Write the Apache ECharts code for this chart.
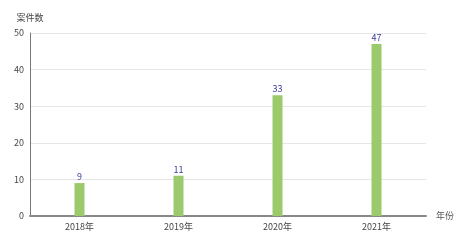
<!DOCTYPE html>
<html><head><meta charset="utf-8">
<script src="https://cdn.jsdelivr.net/npm/echarts@6/dist/echarts.min.js"></script>
<style>html,body{margin:0;padding:0;background:#fff}#c{width:467px;height:241px}</style>
</head><body><div id="c"></div>
<script>
const categories = ['2018年', '2019年', '2020年', '2021年'];
const values = [9, 11, 33, 47];
const chart = echarts.init(document.getElementById('c'), null, {renderer: 'canvas'});
chart.setOption({
  animation: false,
  grid: {left: 30, right: 41, top: 33, bottom: 25, containLabel: false},
  xAxis: {
    type: 'category', data: categories,
    name: '年份', nameGap: 10,
    nameTextStyle: {color: '#555', fontSize: 9, fontFamily: 'Noto Sans CJK SC'},
    axisLine: {lineStyle: {color: '#888', width: 2}},
    axisTick: {show: false},
    axisLabel: {color: '#444', fontSize: 9, margin: 6, fontFamily: 'Noto Sans CJK SC'}
  },
  yAxis: {
    type: 'value', min: 0, max: 50, interval: 10,
    name: '案件数', nameGap: 11,
    nameTextStyle: {color: '#444', fontSize: 9, align: 'center', fontFamily: 'Noto Sans CJK SC'},
    axisLine: {show: true, lineStyle: {color: '#777', width: 1}},
    axisTick: {show: false},
    axisLabel: {color: '#444', fontSize: 9, margin: 6, fontFamily: 'Noto Sans CJK SC'},
    splitLine: {lineStyle: {color: '#e6e6e6'}}
  },
  series: [{
    type: 'bar', data: values, barWidth: 10,
    itemStyle: {color: '#9cc96c'},
    label: {show: true, position: 'top', distance: 2, color: '#3b3b9c', fontSize: 9, fontFamily: 'Noto Sans CJK SC'}
  }]
});
</script></body></html>
